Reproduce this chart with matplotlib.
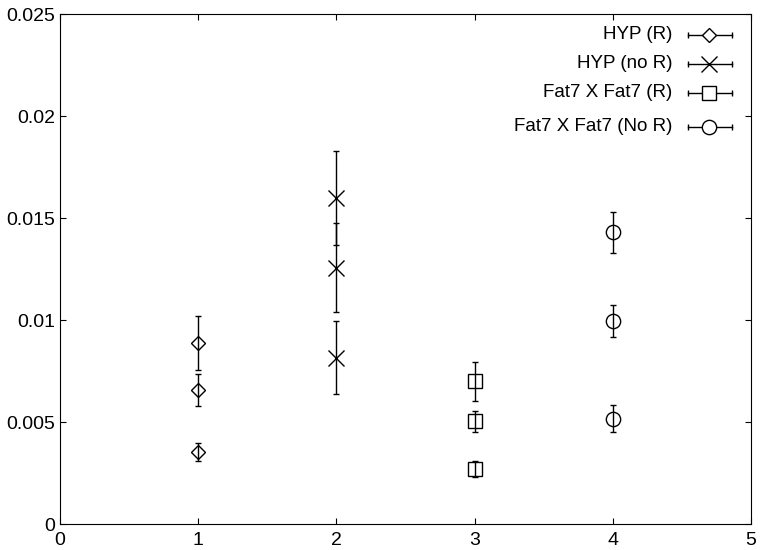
import numpy as np
import matplotlib
matplotlib.use('Agg')
import matplotlib.pyplot as plt

plt.rcParams['font.family'] = ['Liberation Sans', 'DejaVu Sans']

# series values
labels = ['HYP (R)', 'HYP (no R)', 'Fat7 X Fat7 (R)', 'Fat7 X Fat7 (No R)']
x_pos = [1, 2, 3, 4]

hyp_r = [0.00887, 0.00657, 0.00353]
hyp_r_err = [0.00132, 0.00080, 0.00043]

hyp_nor = [0.0160, 0.01258, 0.00817]
hyp_nor_err = [0.0023, 0.00220, 0.00180]

fat_r = [0.0070, 0.00505, 0.0027]
fat_r_err = [0.00097, 0.00052, 0.00038]

fat_nor = [0.01431, 0.00997, 0.00518]
fat_nor_err = [0.0010, 0.00079, 0.00066]

x_ticks = [0, 1, 2, 3, 4, 5]
y_ticks = [0, 0.005, 0.01, 0.015, 0.02, 0.025]
y_tick_labels = ['0', '0.005', '0.01', '0.015', '0.02', '0.025']

series = [
    (hyp_r, hyp_r_err, 'D', 7.6),
    (hyp_nor, hyp_nor_err, 'x', 11),
    (fat_r, fat_r_err, 's', 10.3),
    (fat_nor, fat_nor_err, 'o', 10.3),
]

fig = plt.figure(figsize=(7.6, 5.5), dpi=100)
ax = fig.add_axes([0.079, 0.047, 0.909, 0.927])

for i, (vals, errs, mk, ms) in enumerate(series):
    xs = [x_pos[i]] * len(vals)
    ax.errorbar(xs, vals, yerr=errs, fmt=mk, ms=ms, mfc='none', mec='black',
                mew=1.0, ecolor='black', elinewidth=1.0, capsize=2.5,
                capthick=1.0, color='black')

# gnuplot style key: text right aligned, sample to the right
key_y = [0.960, 0.903, 0.846, 0.779]
for i, (vals, errs, mk, ms) in enumerate(series):
    yk = key_y[i]
    ax.text(0.886, yk, labels[i], transform=ax.transAxes, ha='right',
            va='center', fontsize=13.5)
    ax.plot([0.909, 0.9725], [yk, yk], transform=ax.transAxes,
            color='black', lw=1.0, clip_on=False)
    ax.plot([0.909, 0.9725], [yk, yk], transform=ax.transAxes, ls='none',
            marker='|', ms=5, mew=1.0, color='black', clip_on=False)
    ax.plot([0.939], [yk], transform=ax.transAxes, marker=mk, ms=ms,
            mfc='white', mec='black', mew=1.0, ls='none', clip_on=False)

ax.set_xlim(0, 5)
ax.set_ylim(0, 0.025)
ax.set_xticks(x_ticks)
ax.set_yticks(y_ticks)
ax.set_yticklabels(y_tick_labels)
ax.tick_params(direction='in', length=4.5, width=0.8, labelsize=14,
               top=True, right=True)
ax.tick_params(axis='x', pad=5.5)
ax.tick_params(axis='y', pad=3.5)
for sp in ax.spines.values():
    sp.set_linewidth(0.8)

fig.savefig('out.png', dpi=100)
